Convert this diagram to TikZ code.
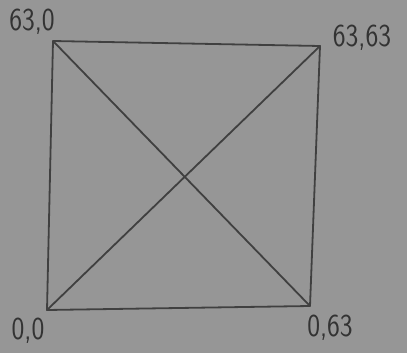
\documentclass[tikz,border=0pt]{standalone}
\begin{document}
\begin{tikzpicture}[x=1pt,y=-1pt,
  pen/.style={draw=black!75, line width=1.8pt, line cap=round, line join=round},
  lbl/.style={text=black!80, font=\sffamily\fontsize{32}{34}\selectfont, inner sep=0pt, xscale=0.85}]
\definecolor{paper}{RGB}{150,150,150}
\fill[paper] (0,0) rectangle (407,353);
\useasboundingbox (0,0) rectangle (407,353);
\coordinate (tl) at (53,41);
\coordinate (tr) at (320,46);
\coordinate (br) at (310,306);
\coordinate (bl) at (47,310);
\draw[pen] (tl) -- (tr) -- (br) -- (bl) -- cycle;
\draw[pen] (tl) -- (br);
\draw[pen] (bl) -- (tr);
\node[lbl] (a) at (32,22) {63,0};
\node[lbl] (b) at (362,38) {63,63};
\node[lbl] (c) at (28,331) {0,0};
\node[lbl] (d) at (330,328) {0,63};
\end{tikzpicture}
\end{document}
